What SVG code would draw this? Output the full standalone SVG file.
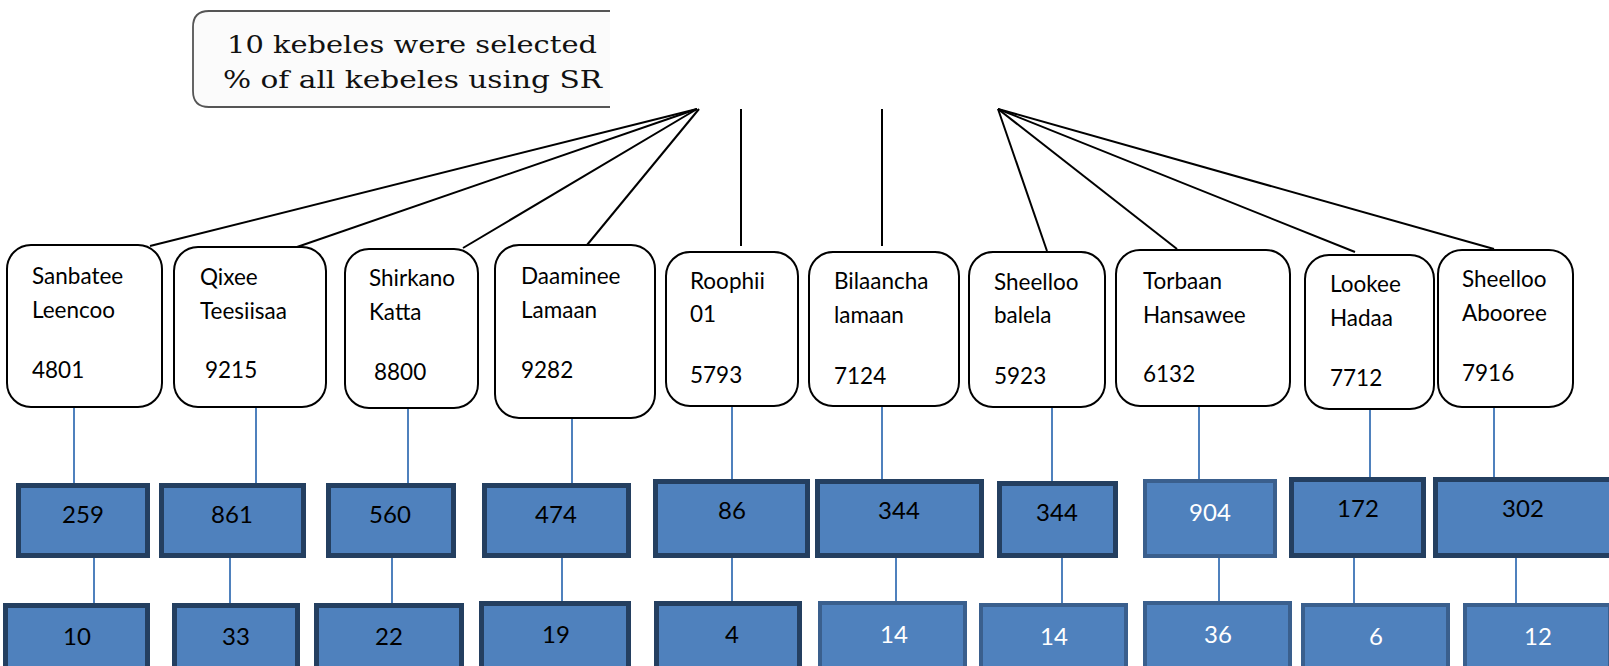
<svg xmlns="http://www.w3.org/2000/svg" width="1609" height="666" viewBox="0 0 1609 666">
<style>
.nb{fill:#fff;stroke:#000;stroke-width:2}
.nt{font-family:Lato,"Liberation Sans",sans-serif;font-size:22.5px;fill:#000}
.bd{fill:#4F81BD;stroke:#243F60;stroke-width:5}
.bl{fill:#4F81BD;stroke:#3A5F8D;stroke-width:4}
.num{font-family:Lato,"Liberation Sans",sans-serif;font-size:24px;text-anchor:middle;fill:#000}
.w{fill:#fff}
.k{stroke:#000;stroke-width:2;fill:none}
.b{stroke:#4F81BD;stroke-width:2;fill:none}
.top{font-family:"DejaVu Serif","Liberation Serif",serif;font-size:25px;fill:#111}
</style>
<defs>
<clipPath id="topclip"><rect x="180" y="0" width="430" height="120"/></clipPath>
</defs>
<rect width="1609" height="666" fill="#fff"/>

<g id="summary" clip-path="url(#topclip)">
<path d="M620,11 H209 Q193,11 193,27 V91 Q193,107 209,107 H620" fill="#fbfbfb" stroke="#555" stroke-width="1.8"/>
<text class="top" x="227" y="53" textLength="370" lengthAdjust="spacingAndGlyphs">10 kebeles were selected</text>
<text class="top" x="223" y="88" textLength="379" lengthAdjust="spacingAndGlyphs">% of all kebeles using SR</text>
</g>

<g id="connectors">
<line class="k" x1="697" y1="109" x2="150" y2="246"/>
<line class="k" x1="697" y1="109" x2="297" y2="247"/>
<line class="k" x1="697" y1="109" x2="463" y2="248"/>
<line class="k" x1="699" y1="109" x2="587" y2="245"/>
<line class="k" x1="741" y1="109" x2="741" y2="246"/>
<line class="k" x1="882" y1="109" x2="882" y2="246"/>
<line class="k" x1="998" y1="109" x2="1047" y2="251"/>
<line class="k" x1="998" y1="109" x2="1177" y2="249"/>
<line class="k" x1="998" y1="109" x2="1355" y2="252"/>
<line class="k" x1="998" y1="109" x2="1494" y2="249"/>
<line class="b" x1="74" y1="408" x2="74" y2="483"/>
<line class="b" x1="256" y1="408" x2="256" y2="483"/>
<line class="b" x1="408" y1="409" x2="408" y2="483"/>
<line class="b" x1="572" y1="419" x2="572" y2="483"/>
<line class="b" x1="732" y1="407" x2="732" y2="479"/>
<line class="b" x1="882" y1="407" x2="882" y2="479"/>
<line class="b" x1="1052" y1="408" x2="1052" y2="481"/>
<line class="b" x1="1199" y1="407" x2="1199" y2="479"/>
<line class="b" x1="1370" y1="410" x2="1370" y2="477"/>
<line class="b" x1="1494" y1="408" x2="1494" y2="477"/>
<line class="b" x1="94" y1="558" x2="94" y2="603"/>
<line class="b" x1="230" y1="558" x2="230" y2="603"/>
<line class="b" x1="392" y1="558" x2="392" y2="603"/>
<line class="b" x1="562" y1="558" x2="562" y2="601"/>
<line class="b" x1="732" y1="558" x2="732" y2="601"/>
<line class="b" x1="896" y1="558" x2="896" y2="601"/>
<line class="b" x1="1062" y1="558" x2="1062" y2="603"/>
<line class="b" x1="1219" y1="558" x2="1219" y2="601"/>
<line class="b" x1="1354" y1="558" x2="1354" y2="603"/>
<line class="b" x1="1516" y1="558" x2="1516" y2="603"/>
</g>

<g id="kebele-1"><rect class="nb" x="7" y="245" width="155" height="162" rx="24"/>
<text class="nt" x="32" y="284">Sanbatee</text><text class="nt" x="32" y="318">Leencoo</text><text class="nt" x="32" y="378">4801</text></g>
<g id="kebele-2"><rect class="nb" x="174" y="247" width="152" height="160" rx="24"/>
<text class="nt" x="200" y="285">Qixee</text><text class="nt" x="200" y="319">Teesiisaa</text><text class="nt" x="205" y="378">9215</text></g>
<g id="kebele-3"><rect class="nb" x="345" y="249" width="133" height="159" rx="24"/>
<text class="nt" x="369" y="286">Shirkano</text><text class="nt" x="369" y="320">Katta</text><text class="nt" x="374" y="380">8800</text></g>
<g id="kebele-4"><rect class="nb" x="495" y="245" width="160" height="173" rx="24"/>
<text class="nt" x="521" y="284">Daaminee</text><text class="nt" x="521" y="318">Lamaan</text><text class="nt" x="521" y="378">9282</text></g>
<g id="kebele-5"><rect class="nb" x="666" y="252" width="132" height="154" rx="24"/>
<text class="nt" x="690" y="289">Roophii</text><text class="nt" x="690" y="322">01</text><text class="nt" x="690" y="383">5793</text></g>
<g id="kebele-6"><rect class="nb" x="809" y="252" width="150" height="154" rx="24"/>
<text class="nt" x="834" y="289">Bilaancha</text><text class="nt" x="834" y="323">lamaan</text><text class="nt" x="834" y="384">7124</text></g>
<g id="kebele-7"><rect class="nb" x="969" y="252" width="136" height="155" rx="24"/>
<text class="nt" x="994" y="290">Sheelloo</text><text class="nt" x="994" y="323">balela</text><text class="nt" x="994" y="384">5923</text></g>
<g id="kebele-8"><rect class="nb" x="1116" y="250" width="174" height="156" rx="24"/>
<text class="nt" x="1143" y="289">Torbaan</text><text class="nt" x="1143" y="323">Hansawee</text><text class="nt" x="1143" y="382">6132</text></g>
<g id="kebele-9"><rect class="nb" x="1305" y="255" width="129" height="154" rx="24"/>
<text class="nt" x="1330" y="292">Lookee</text><text class="nt" x="1330" y="326">Hadaa</text><text class="nt" x="1330" y="386">7712</text></g>
<g id="kebele-10"><rect class="nb" x="1438" y="250" width="135" height="157" rx="24"/>
<text class="nt" x="1462" y="287">Sheelloo</text><text class="nt" x="1462" y="321">Abooree</text><text class="nt" x="1462" y="381">7916</text></g>

<g id="hh-1"><rect class="bd" x="18.5" y="485.5" width="129" height="70"/><text class="num" x="83" y="523">259</text></g>
<g id="hh-2"><rect class="bd" x="161.5" y="485.5" width="142" height="70"/><text class="num" x="232" y="523">861</text></g>
<g id="hh-3"><rect class="bd" x="328.5" y="485.5" width="125" height="70"/><text class="num" x="390" y="523">560</text></g>
<g id="hh-4"><rect class="bd" x="484.5" y="485.5" width="144" height="70"/><text class="num" x="556" y="523">474</text></g>
<g id="hh-5"><rect class="bd" x="655.5" y="481.5" width="152" height="74"/><text class="num" x="732" y="519">86</text></g>
<g id="hh-6"><rect class="bd" x="817.5" y="481.5" width="164" height="74"/><text class="num" x="899" y="519">344</text></g>
<g id="hh-7"><rect class="bd" x="999.5" y="483.5" width="116" height="72"/><text class="num" x="1057" y="521">344</text></g>
<g id="hh-8"><rect class="bl" x="1145" y="481" width="130" height="75"/><text class="num w" x="1210" y="521">904</text></g>
<g id="hh-9"><rect class="bd" x="1291.5" y="479.5" width="132" height="76"/><text class="num" x="1358" y="517">172</text></g>
<g id="hh-10"><rect class="bd" x="1435.5" y="479.5" width="176" height="76"/><text class="num" x="1523" y="517">302</text></g>

<g id="s-1"><rect class="bd" x="5.5" y="605.5" width="142" height="70"/><text class="num" x="77" y="645">10</text></g>
<g id="s-2"><rect class="bd" x="174.5" y="605.5" width="123" height="70"/><text class="num" x="236" y="645">33</text></g>
<g id="s-3"><rect class="bd" x="316.5" y="605.5" width="145" height="70"/><text class="num" x="389" y="645">22</text></g>
<g id="s-4"><rect class="bd" x="481.5" y="603.5" width="147" height="70"/><text class="num" x="556" y="643">19</text></g>
<g id="s-5"><rect class="bd" x="656.5" y="603.5" width="143" height="70"/><text class="num" x="732" y="643">4</text></g>
<g id="s-6"><rect class="bl" x="820" y="603" width="145" height="70"/><text class="num w" x="894" y="643">14</text></g>
<g id="s-7"><rect class="bl" x="981" y="605" width="145" height="70"/><text class="num w" x="1054" y="645">14</text></g>
<g id="s-8"><rect class="bl" x="1145" y="603" width="145" height="70"/><text class="num w" x="1218" y="643">36</text></g>
<g id="s-9"><rect class="bl" x="1303" y="605" width="145" height="70"/><text class="num w" x="1376" y="645">6</text></g>
<g id="s-10"><rect class="bl" x="1465" y="605" width="145" height="70"/><text class="num w" x="1538" y="645">12</text></g>
</svg>
